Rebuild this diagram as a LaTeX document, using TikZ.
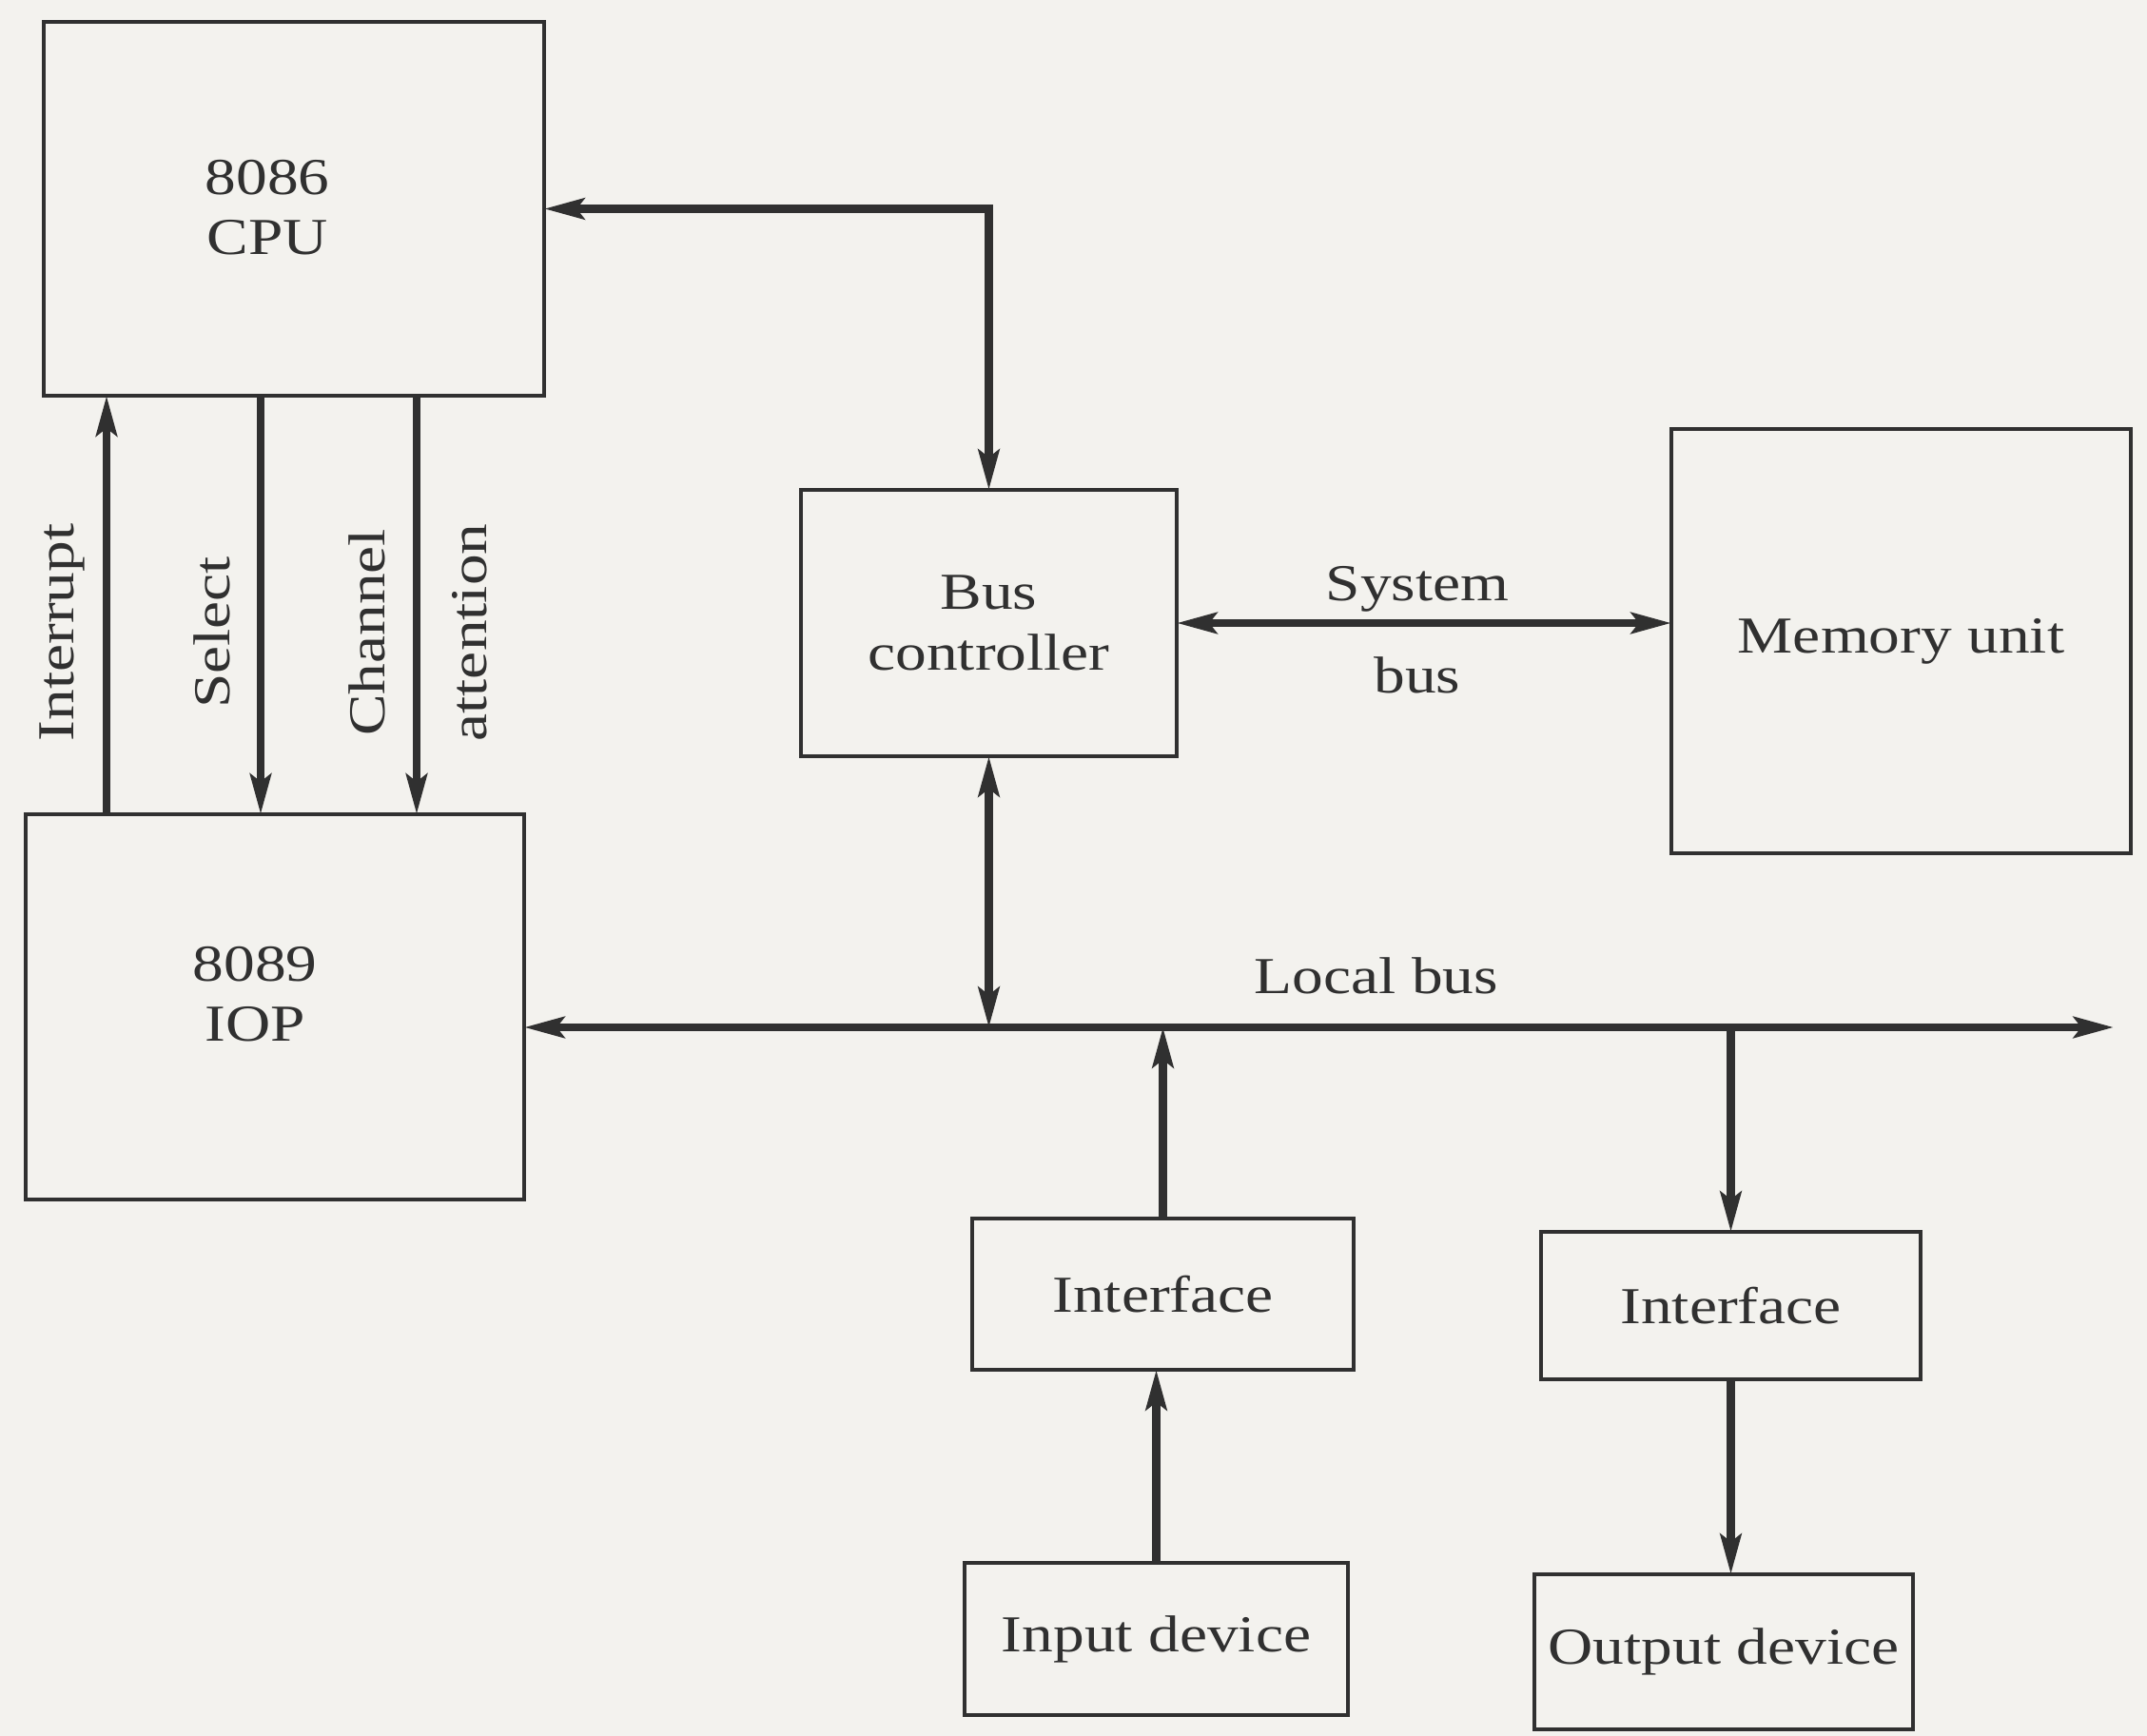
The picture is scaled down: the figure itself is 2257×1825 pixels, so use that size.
\documentclass[tikz,border=0pt]{standalone}
\usepackage{fontspec}
\setmainfont[FakeStretch=1.2]{Liberation Serif}
\usetikzlibrary{arrows.meta}
\definecolor{paper}{RGB}{243,242,238}
\definecolor{ink}{RGB}{48,48,48}
\begin{document}
\begin{tikzpicture}[x=0.01cm,y=-0.01cm,
  box/.style={draw=ink,line width=1.1pt,inner sep=0pt,outer sep=0pt},
  lbl/.style={text=ink,font=\fontsize{15.5}{18}\selectfont,align=center,inner sep=0pt},
  conn/.style={draw=ink,line width=2.3pt},
  onearrow/.style={-{Stealth[length=0.42cm,width=0.22cm,inset=0.08cm]}},
  twoarrow/.style={{Stealth[length=0.42cm,width=0.22cm,inset=0.08cm]}-{Stealth[length=0.42cm,width=0.22cm,inset=0.08cm]}}
]
\fill[paper] (0,0) rectangle (2257,1825);
\useasboundingbox (0,0) rectangle (2257,1825);

% boxes
\node[box,minimum width=5.26cm,minimum height=3.93cm] (CPU) at (309,219.5) {};
\node[lbl] (cputext) at (281,218) {8086\\CPU};
\node[box,minimum width=5.24cm,minimum height=4.05cm] (IOP) at (289,1058.5) {};
\node[lbl] (ioptext) at (268,1045) {8089\\IOP};
\node[box,lbl,minimum width=3.95cm,minimum height=2.80cm] (BC) at (1039.5,655) {Bus\\controller};
\node[box,lbl,minimum width=4.83cm,minimum height=4.46cm] (Mem) at (1998.5,674) {Memory unit};
\node[box,lbl,minimum width=4.01cm,minimum height=1.59cm] (If1) at (1222.5,1360.5) {Interface};
\node[box,lbl,minimum width=3.99cm,minimum height=1.55cm] (If2) at (1819.5,1372.5) {Interface};
\node[box,lbl,minimum width=4.03cm,minimum height=1.60cm] (In) at (1215.5,1723) {Input device};
\node[box,lbl,minimum width=3.98cm,minimum height=1.63cm] (Out) at (1812,1736.5) {Output device};

% helper coordinates
\coordinate (xi) at (112,0);
\coordinate (xs) at (274,0);
\coordinate (xc) at (438,0);
\coordinate (busR) at (2222,1080);

% CPU <-> bus controller
\draw[conn,twoarrow] (CPU.east) -| (BC.north);
% CPU / IOP signals
\draw[conn,onearrow] (IOP.north -| xi) -- (CPU.south -| xi);
\draw[conn,onearrow] (CPU.south -| xs) -- (IOP.north -| xs);
\draw[conn,onearrow] (CPU.south -| xc) -- (IOP.north -| xc);
\node[lbl,rotate=90] (lint) at (65,665) {Interrupt};
\node[lbl,rotate=90] (lsel) at (223,665) {Select};
\node[lbl,rotate=90] (lch) at (386,665) {Channel};
\node[lbl,rotate=90] (latt) at (494,665) {attention};

% system bus
\draw[conn,twoarrow] (BC.east) -- (BC.east -| Mem.west);
\node[lbl] (sys1) at (1490,619) {System};
\node[lbl] (sys2) at (1490,710) {bus};

% local bus
\draw[conn,twoarrow] (IOP.east |- busR) -- (busR);
\node[lbl] (lbus) at (1447,1026) {Local bus};
\draw[conn,twoarrow] (BC.south) -- (BC.south |- busR);

% I/O
\draw[conn,onearrow] (If1.north) -- (If1.north |- busR);
\draw[conn,onearrow] (In.north) -- (In.north |- If1.south);
\draw[conn,onearrow] (If2.north |- busR) -- (If2.north);
\draw[conn,onearrow] (If2.south) -- (If2.south |- Out.north);
\end{tikzpicture}
\end{document}
